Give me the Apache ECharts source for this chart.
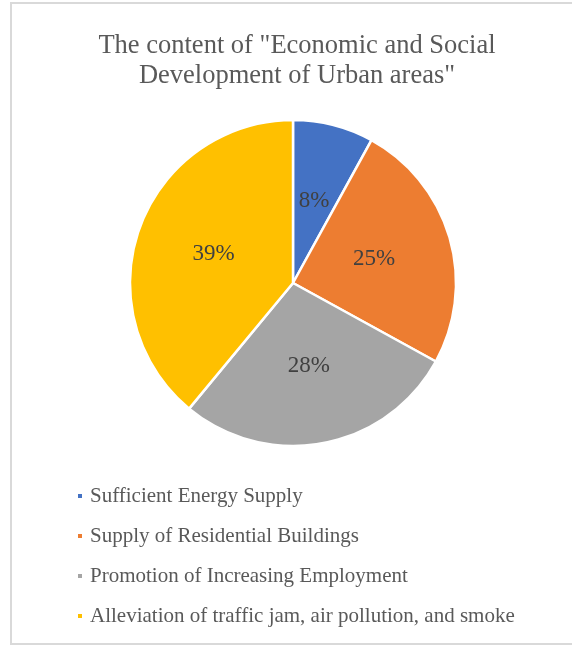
<!DOCTYPE html>
<html>
<head>
<meta charset="utf-8">
<script src="https://cdn.jsdelivr.net/npm/echarts@6/dist/echarts.min.js"></script>
<style>
  html, body { margin: 0; padding: 0; background: #fff; }
  #chart { width: 572px; height: 646px; }
</style>
</head>
<body>
<div id="chart"></div>
<script>
// Content shares of "Economic and Social Development of Urban areas"
const categories = [
  'Sufficient Energy Supply',
  'Supply of Residential Buildings',
  'Promotion of Increasing Employment',
  'Alleviation of traffic jam, air pollution, and smoke'
];
const shares = [8, 25, 28, 39];
const sliceColors = ['#4472C4', '#ED7D31', '#A5A5A5', '#FFC000'];

const serif = '"Liberation Serif", "Times New Roman", serif';

const chart = echarts.init(document.getElementById('chart'), null, { renderer: 'canvas' });

chart.setOption({
  animation: false,
  color: sliceColors,
  graphic: [{
    type: 'rect',
    shape: { x: 11, y: 3, width: 580, height: 641 },
    style: { fill: 'none', stroke: '#D9D9D9', lineWidth: 2 },
    silent: true,
    z: -1
  }],
  title: {
    text: 'The content of "Economic and Social\nDevelopment of Urban areas"',
    left: 292,
    top: 26,
    textAlign: 'center',
    textStyle: {
      fontFamily: serif,
      fontWeight: 'normal',
      fontSize: 26.5,
      lineHeight: 30,
      color: '#595959'
    }
  },
  legend: {
    orient: 'vertical',
    left: 76,
    top: 485,
    padding: 0,
    itemWidth: 6,
    itemHeight: 6,
    itemGap: 18,
    icon: 'rect',
    textStyle: {
      fontFamily: serif,
      fontSize: 21,
      lineHeight: 22,
      color: '#595959',
      padding: [0, 0, 0, 2]
    },
    data: categories
  },
  series: [{
    type: 'pie',
    center: [293, 283],
    radius: [0, 163],
    startAngle: 90,
    clockwise: true,
    itemStyle: { borderColor: '#fff', borderWidth: 2.5 },
    label: {
      show: true,
      position: 'inside',
      formatter: '{c}%',
      fontFamily: serif,
      fontSize: 23,
      color: '#404040'
    },
    labelLine: { show: false },
    emphasis: { disabled: true },
    data: categories.map((name, i) => ({ name, value: shares[i] }))
  }]
});
</script>
</body>
</html>
